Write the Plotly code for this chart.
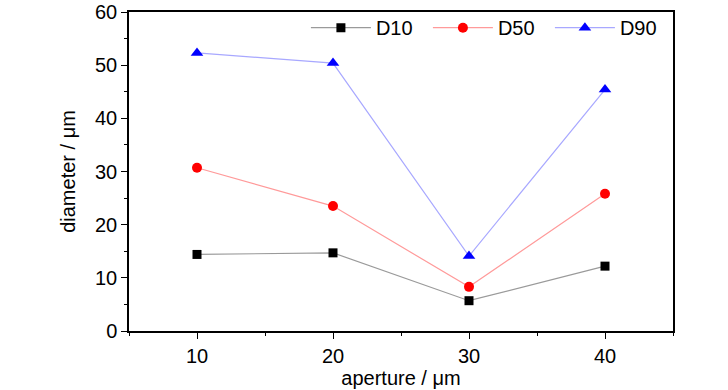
import plotly.graph_objects as go

aperture = [10, 20, 30, 40]
d10 = [14.4, 14.7, 5.7, 12.2]
d50 = [30.7, 23.5, 8.3, 25.8]
d90 = [52.3, 50.4, 14.1, 45.4]

FONT = "Liberation Sans, Arial, sans-serif"

fig = go.Figure()
fig.add_trace(go.Scatter(x=aperture, y=d10, name="D10", mode="lines+markers",
                         line=dict(color="#9a9a9a", width=1.2),
                         marker=dict(symbol="square", size=9, color="black")))
fig.add_trace(go.Scatter(x=aperture, y=d50, name="D50", mode="lines+markers",
                         line=dict(color="#ff9a9a", width=1.2),
                         marker=dict(symbol="circle", size=10, color="red")))
fig.add_trace(go.Scatter(x=aperture, y=d90, name="D90", mode="lines+markers",
                         line=dict(color="#a8a8ff", width=1.2),
                         marker=dict(symbol="triangle-up", size=11, color="blue")))

axis_common = dict(showline=True, linecolor="black", linewidth=1.5, mirror=True,
                   ticks="outside", ticklen=6, tickwidth=1.2, tickcolor="black",
                   showgrid=False, zeroline=False, automargin=False,
                   tickfont=dict(family=FONT, size=20, color="black"))

fig.update_xaxes(range=[5, 45], tickvals=[10, 20, 30, 40],
                 minor=dict(tickvals=[5, 15, 25, 35, 45], ticks="outside", ticklen=3,
                            tickcolor="black", tickwidth=1.2),
                 title=dict(text="aperture / μm", font=dict(family=FONT, size=20, color="black"),
                            standoff=0),
                 **axis_common)
fig.update_yaxes(range=[0, 60], tickvals=[0, 10, 20, 30, 40, 50, 60],
                 minor=dict(tickvals=[5, 15, 25, 35, 45, 55], ticks="outside", ticklen=3,
                            tickcolor="black", tickwidth=1.2),
                 ticklabelstandoff=0,
                 title=dict(text="diameter / μm", font=dict(family=FONT, size=20, color="black"),
                            standoff=14),
                 **axis_common)

fig.update_layout(
    width=728, height=390,
    margin=dict(l=129, r=55, t=12, b=59, autoexpand=False),
    paper_bgcolor="white", plot_bgcolor="white",
    showlegend=True,
    legend=dict(orientation="h", x=0.998, xanchor="right", y=1.012, yanchor="top",
                bgcolor="rgba(0,0,0,0)", font=dict(family=FONT, size=20, color="black"),
                itemwidth=60, entrywidth=47, entrywidthmode="pixels", tracegroupgap=0),
)

fig.write_html("out.html", config={"displayModeBar": False},
               post_script="document.body.style.margin='0';document.body.style.overflow='hidden';")
